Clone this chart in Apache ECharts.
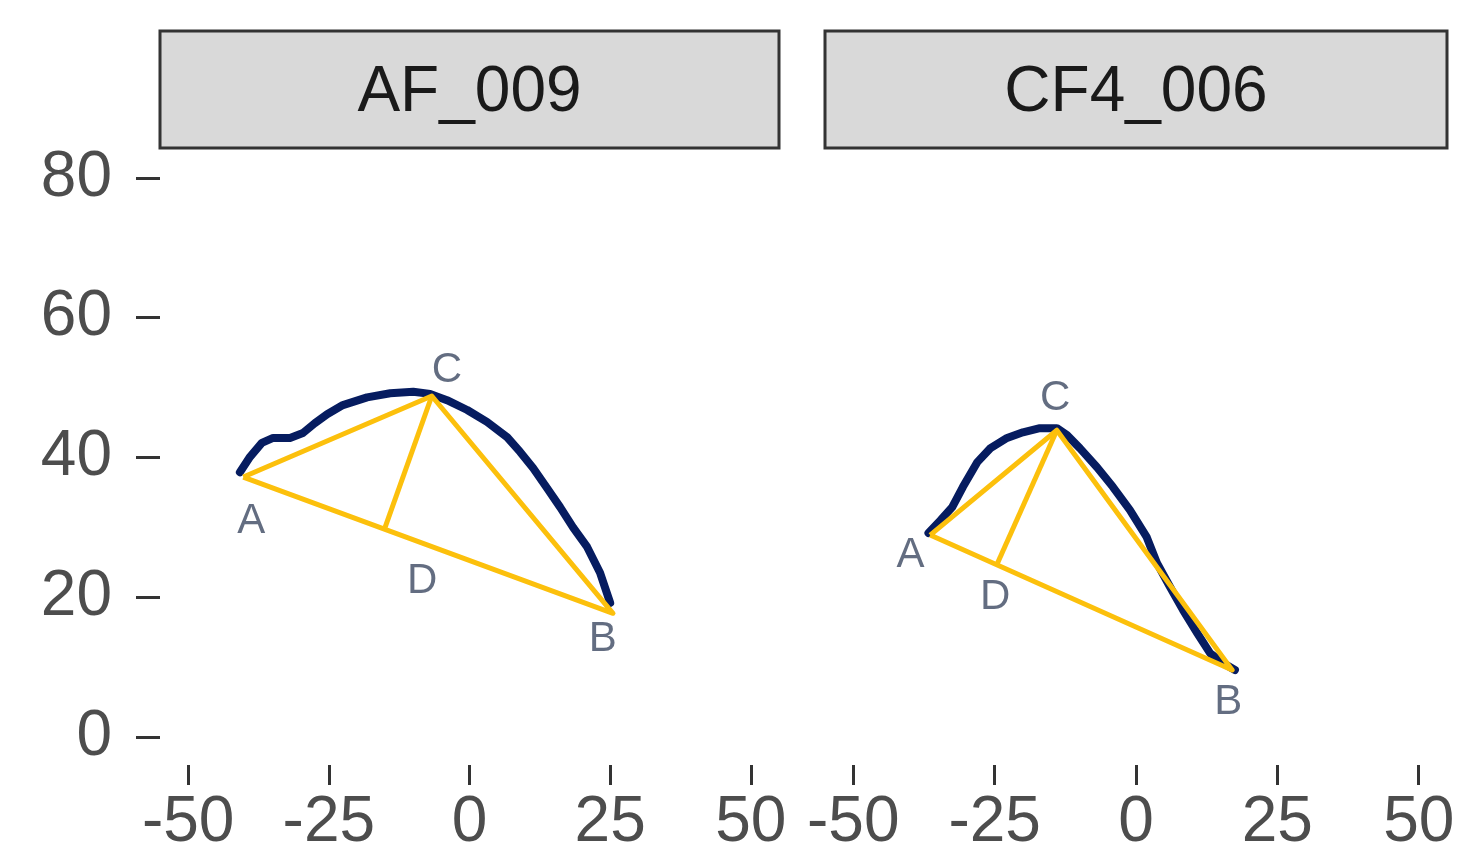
<!DOCTYPE html>
<html>
<head>
<meta charset="utf-8">
<script src="https://cdn.jsdelivr.net/npm/echarts@6/dist/echarts.min.js"></script>
<style>
  html, body { margin: 0; padding: 0; background: #ffffff; }
  #chart { width: 1462px; height: 860px; }
</style>
</head>
<body>
<div id="chart"></div>
<script>
// Facet names and axis ticks
const panelNames = ['AF_009', 'CF4_006'];
const xTicks = [-50, -25, 0, 25, 50];
const yTicks = [0, 20, 40, 60, 80];

// Traced outline of each specimen (x, y)
const af009Curve = [
  [-40.8, 37.9], [-39.0, 40.1], [-36.9, 42.1], [-34.9, 42.8], [-31.9, 42.8],
  [-29.6, 43.5], [-27.5, 44.9], [-25.3, 46.2], [-22.5, 47.5], [-18.2, 48.6],
  [-14.1, 49.2], [-10.0, 49.4], [-7.0, 49.1], [-4.0, 48.2], [-0.4, 46.8],
  [3.1, 45.1], [6.7, 42.9], [9.0, 40.8], [11.3, 38.5], [13.8, 35.6],
  [16.1, 32.9], [18.4, 30.0], [20.9, 27.2], [23.2, 23.5], [25.0, 19.2]
];
const cf4006Curve = [
  [-36.7, 29.2], [-34.6, 31.0], [-32.5, 32.9], [-30.6, 35.8], [-28.1, 39.3],
  [-25.8, 41.3], [-22.8, 42.8], [-20.0, 43.6], [-17.0, 44.2], [-14.0, 44.2],
  [-12.2, 43.2], [-9.9, 41.3], [-6.9, 38.6], [-4.1, 35.8], [-1.1, 32.5],
  [1.9, 28.6], [3.7, 24.9], [6.0, 21.5], [8.3, 18.2], [10.8, 14.9],
  [13.1, 12.0], [15.4, 10.6], [17.5, 9.6]
];

// Landmarks A, B, C, D and where their letters sit
const landmarkNames = ['A', 'B', 'C', 'D'];
const af009Landmarks = [[-40.2, 37.2], [25.5, 17.7], [-6.7, 48.8], [-15.0, 30.0]];
const af009LabelPos = [[-38.8, 30.8], [23.7, 13.9], [-4.0, 52.5], [-8.4, 22.2]];
const cf4006Landmarks = [[-36.4, 28.9], [17.0, 9.6], [-14.0, 43.9], [-24.6, 24.7]];
const cf4006LabelPos = [[-39.9, 26.0], [16.3, 4.9], [-14.3, 48.5], [-24.9, 20.0]];

const FONT = '"Liberation Sans", Arial, Helvetica, sans-serif';
const NAVY = '#061c60';
const GOLD = '#fcc00c';
const LABEL = '#3c4862';

const gridBoxes = [
  { left: 160, top: 150, width: 619, height: 615 },
  { left: 825, top: 150, width: 622, height: 615 }
];

function makeX(i) {
  return {
    gridIndex: i, type: 'value', min: -55, max: 55, position: 'bottom',
    axisLine: { show: false, onZero: false },
    splitLine: { show: false },
    axisTick: { show: true, length: 20, customValues: xTicks, lineStyle: { color: '#333333', width: 3 } },
    axisLabel: { show: true, customValues: xTicks, margin: 26, fontSize: 64, fontFamily: FONT, color: '#4d4d4d' }
  };
}
function makeY(i) {
  const shown = i === 0;
  return {
    gridIndex: i, type: 'value', min: -4, max: 84, position: 'left',
    axisLine: { show: false, onZero: false },
    splitLine: { show: false },
    axisTick: { show: shown, length: 24, customValues: yTicks, lineStyle: { color: '#333333', width: 3 } },
    axisLabel: { show: shown, customValues: yTicks, margin: 48, fontSize: 64, fontFamily: FONT, color: '#4d4d4d' }
  };
}

function panelSeries(i, curve, marks, labelPos) {
  const [A, B, C, D] = marks;
  return [
    {
      type: 'line', xAxisIndex: i, yAxisIndex: i, data: curve,
      symbol: 'none', smooth: false, silent: true,
      lineStyle: { color: NAVY, width: 8, cap: 'round', join: 'round' }, z: 2
    },
    {
      type: 'line', xAxisIndex: i, yAxisIndex: i, data: [A, C, B, A],
      symbol: 'none', silent: true,
      lineStyle: { color: GOLD, width: 5, join: 'round' }, z: 3
    },
    {
      type: 'line', xAxisIndex: i, yAxisIndex: i, data: [C, D],
      symbol: 'none', silent: true,
      lineStyle: { color: GOLD, width: 5 }, z: 3
    },
    {
      type: 'scatter', xAxisIndex: i, yAxisIndex: i, silent: true,
      symbolSize: 1, itemStyle: { color: 'rgba(0,0,0,0)' },
      data: landmarkNames.map((n, k) => ({ name: n, value: labelPos[k] })),
      label: {
        show: true, position: 'inside', formatter: p => p.name,
        fontSize: 42, fontFamily: FONT, color: LABEL
      }, z: 4
    }
  ];
}

function strip(i, text) {
  const g = gridBoxes[i];
  return {
    type: 'group',
    children: [
      {
        type: 'rect', shape: { x: g.left, y: 31, width: g.width, height: 117 },
        style: { fill: '#d9d9d9', stroke: '#333333', lineWidth: 3 }
      },
      {
        type: 'text', x: g.left + g.width / 2, y: 31 + 117 / 2 + 4,
        style: {
          text: text, fontSize: 64, fontFamily: FONT, fill: '#1a1a1a',
          align: 'center', verticalAlign: 'middle'
        }
      }
    ]
  };
}

const chart = echarts.init(document.getElementById('chart'), null, { renderer: 'canvas' });
chart.setOption({
  animation: false,
  backgroundColor: '#ffffff',
  grid: gridBoxes.map(g => Object.assign({ containLabel: false }, g)),
  xAxis: [makeX(0), makeX(1)],
  yAxis: [makeY(0), makeY(1)],
  graphic: panelNames.map((n, i) => strip(i, n)),
  series: [
    ...panelSeries(0, af009Curve, af009Landmarks, af009LabelPos),
    ...panelSeries(1, cf4006Curve, cf4006Landmarks, cf4006LabelPos)
  ]
});
</script>
</body>
</html>
